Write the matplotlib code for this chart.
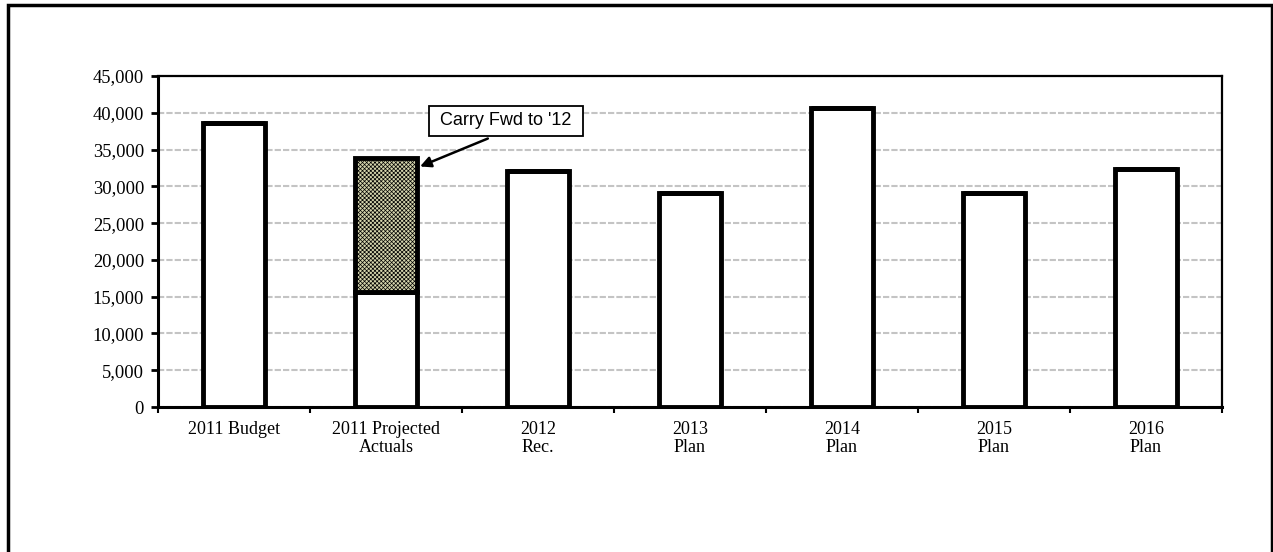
import numpy as np
import matplotlib
matplotlib.use("Agg")
import matplotlib.pyplot as plt
from matplotlib.patches import Rectangle
from matplotlib.ticker import FuncFormatter

categories = ["2011 Budget", "2011 Projected\nActuals", "2012\nRec.", "2013\nPlan",
              "2014\nPlan", "2015\nPlan", "2016\nPlan"]
base_values = [38600, 15700, 32100, 29100, 40600, 29150, 32400]
carry_fwd = [0, 18100, 0, 0, 0, 0, 0]
annot_text = "Carry Fwd to '12"

plt.rcParams['hatch.linewidth'] = 0.5
plt.rcParams['hatch.color'] = '#55553a'

fig = plt.figure(figsize=(12.73, 5.52), dpi=100)
ax = fig.add_axes([158/1273, 1 - 407/552, (1222 - 158)/1273, (407 - 76)/552])

x = np.arange(len(categories))
w = 0.41
ax.bar(x, base_values, width=w, color='white', edgecolor='black', linewidth=3.5, zorder=3)
ax.bar(x, carry_fwd, width=w, bottom=base_values, color='#d4d4ac', edgecolor='black',
       linewidth=3.5, hatch='xxxxxxxx', zorder=3)

ax.set_xlim(-0.5, len(categories) - 0.5)
ax.set_ylim(0, 45000)
ax.set_yticks(np.arange(0, 45001, 5000))
ax.yaxis.set_major_formatter(FuncFormatter(lambda v, p: f"{int(v):,}"))
ax.yaxis.grid(True, color='#c4c4c4', linestyle=(0, (3, 1)), linewidth=1.5, zorder=0)

ax.set_xticks(x)
ax.set_xticklabels(categories, family='Liberation Serif', fontsize=13, linespacing=1.1)
ax.tick_params(axis='x', length=0, pad=10)
ax.set_xticks(np.arange(-0.5, len(categories)), minor=True)
ax.tick_params(axis='x', which='minor', length=4, width=1.5, direction='out')
ax.tick_params(axis='y', length=5, width=2, direction='out', pad=5)
for lab in ax.get_yticklabels():
    lab.set_family('Liberation Serif')
    lab.set_fontsize(13.3)

for s in ['left', 'bottom']:
    ax.spines[s].set_linewidth(2.2)
for s in ['top', 'right']:
    ax.spines[s].set_linewidth(1.6)

# label box and arrow for the carry forward portion
ax.text(1.79, 38900, " " + annot_text + " ", fontsize=13, family='Liberation Sans',
        ha='center', va='center', zorder=5,
        bbox=dict(boxstyle='square,pad=0.35', fc='white', ec='black', lw=1.3))
ax.annotate("", xy=(1.224, 32700), xytext=(1.67, 36500),
            arrowprops=dict(arrowstyle='-|>', color='black', lw=1.8, mutation_scale=16,
                            shrinkA=0, shrinkB=0), zorder=5)

# outer chart frame
fig.patches.append(Rectangle((8/1273, -0.1), 1264/1273, 1.1 - 5/552,
                             transform=fig.transFigure, fill=False,
                             edgecolor='black', linewidth=2.5))

fig.savefig("out.png", dpi=100)
